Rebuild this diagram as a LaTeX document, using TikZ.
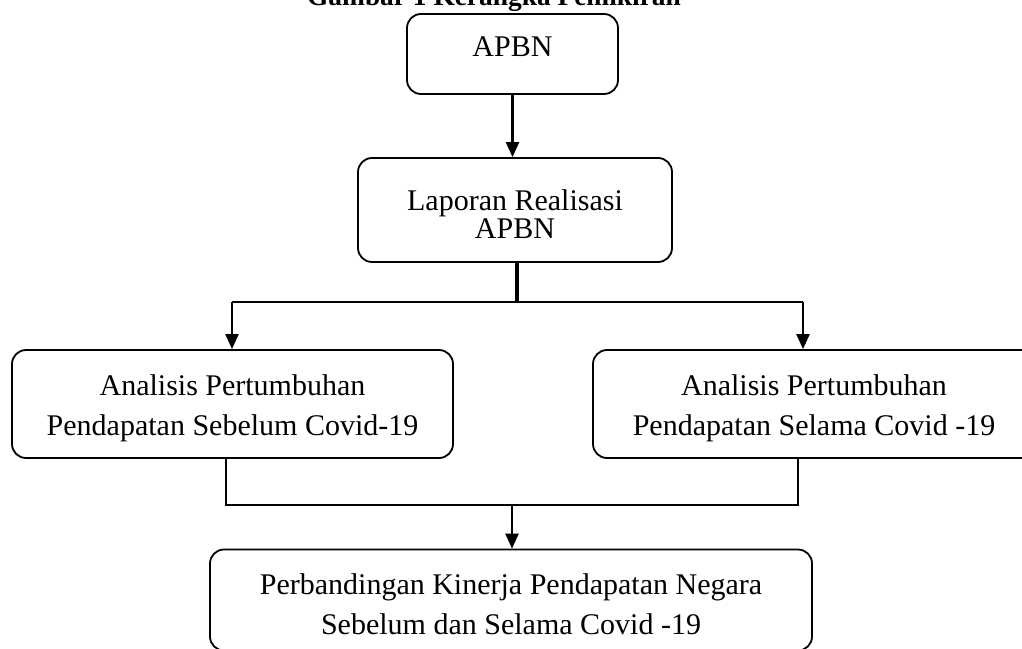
\documentclass[tikz,border=0pt]{standalone}
\usepackage{fontspec}
\setmainfont{Liberation Serif}
\usetikzlibrary{arrows.meta}
\newcommand{\ganjal}{\rule{0pt}{15pt}}

\begin{document}
\begin{tikzpicture}[x=0.5pt,y=-0.5pt,
        kotak/.style={draw,line width=0.9pt,rounded corners=7pt,align=center,
            inner sep=0pt,font=\fontsize{15}{20}\selectfont},
        garis/.style={line width=1.2pt},
        panah/.style={line width=1.2pt,-{Triangle[length=7.5pt,width=6.5pt]}}]
        \useasboundingbox (0,0) rectangle (1022,648);
        \node[anchor=base,font=\bfseries\fontsize{13.7}{16}\selectfont] (judul) at (494,5) {Gambar 1 Kerangka Pemikiran};
        \node[kotak,minimum width=105.5pt,minimum height=40pt,text depth=7pt] (apbn) at (512.5,54) {APBN};
        \node[kotak,minimum width=157pt,minimum height=52pt,font=\fontsize{15}{14}\selectfont] (laporan) at (515,210) {\ganjal Laporan Realisasi\\APBN};
        \node[kotak,minimum width=220.5pt,minimum height=54pt] (sebelum) at (232.5,404) {\ganjal Analisis Pertumbuhan\\Pendapatan Sebelum Covid-19};
        \node[kotak,minimum width=221pt,minimum height=54pt] (selama) at (814,404) {\ganjal Analisis Pertumbuhan\\Pendapatan Selama Covid -19};
        \node[kotak,minimum width=301pt,minimum height=50.5pt] (banding) at (511,600) {\ganjal Perbandingan Kinerja Pendapatan Negara\\Sebelum dan Selama Covid -19};
        % percabangan
        \coordinate (cabang) at (517,302);
        \coordinate (kiri) at (232,302);
        \coordinate (kanan) at (803,302);
        \coordinate (bawahkiri) at (226,505);
        \coordinate (bawahkanan) at (798,505);
        \coordinate (gabung) at (512,505);
        \draw[panah] (apbn.south) -- (apbn.south |- laporan.north);
        \draw[line width=2pt] (cabang |- laporan.south) -- (cabang);
        \draw[garis] (kiri) -- (kanan);
        \draw[panah] (kiri) -- (kiri |- sebelum.north);
        \draw[panah] (kanan) -- (kanan |- selama.north);
        \draw[garis] (bawahkiri |- sebelum.south) -- (bawahkiri) -- (bawahkanan) -- (bawahkanan |- selama.south);
        \draw[panah] (gabung) -- (gabung |- banding.north);
    \end{tikzpicture}
\end{document}
